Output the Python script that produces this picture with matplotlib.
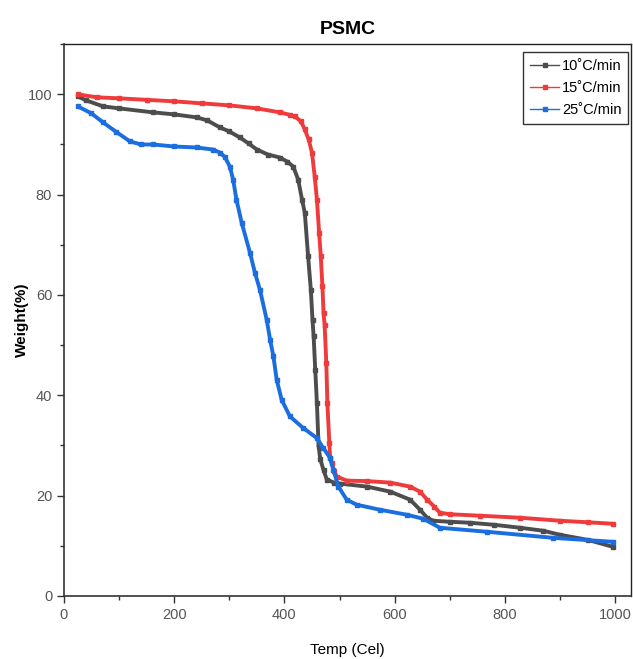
import matplotlib
matplotlib.use("Agg")
import matplotlib.pyplot as plt
from matplotlib.lines import Line2D
from matplotlib.ticker import MultipleLocator

plt.rcParams['font.family'] = ['Liberation Sans', 'DejaVu Sans']

title = "PSMC"
x_label = "Temp (Cel)"
y_label = "Weight(%)"
labels = ["10˚C/min", "15˚C/min", "25˚C/min"]
colors = ["#4d4d4d", "#ef3b3b", "#1a6ee0"]

t10 = [25, 40, 71, 100, 162, 200, 241, 260, 283, 300, 319, 335, 350, 370, 392, 405,
       416, 425, 432, 437, 443, 448, 451, 453, 456, 459, 462, 465, 471, 477, 490, 501,
       550, 592, 628, 646, 659, 670, 700, 737, 780, 828, 870, 900, 950, 996]
w10 = [99.6, 98.8, 97.6, 97.2, 96.4, 96.0, 95.4, 94.8, 93.4, 92.6, 91.4, 90.2, 89.0, 88.0, 87.4, 86.6,
       85.6, 83.0, 79.0, 76.4, 67.7, 61.0, 55.0, 51.8, 45.0, 38.4, 29.9, 27.3, 25.1, 23.2, 22.6, 22.4,
       21.8, 20.8, 19.2, 17.2, 15.6, 15.0, 14.8, 14.6, 14.2, 13.6, 13.0, 12.2, 11.2, 9.8]

t15 = [25, 60, 100, 150, 200, 250, 300, 350, 392, 410, 419, 430, 437, 444, 450, 455,
       459, 463, 466, 469, 471, 473, 476, 478, 481.5, 483, 486, 490, 495, 513, 550, 592,
       628, 646, 659, 672, 682, 700, 755, 828, 900, 950, 996]
w15 = [100.0, 99.4, 99.2, 98.9, 98.6, 98.2, 97.8, 97.2, 96.4, 95.9, 95.6, 94.6, 93.0, 91.0, 88.4, 83.6,
       79.0, 72.4, 67.7, 61.7, 56.4, 54.0, 46.5, 38.4, 30.5, 27.6, 26.5, 25.0, 23.8, 23.0, 22.9, 22.6,
       21.8, 20.8, 19.2, 17.8, 16.6, 16.3, 16.0, 15.6, 15.0, 14.7, 14.4]

t25 = [25, 50, 71, 95, 120, 140, 162, 200, 241, 270, 283, 292, 301, 307, 313, 322.5,
       337.6, 346.6, 355.7, 368, 374, 380, 386, 395, 410, 434, 458.6, 470.6, 483, 489, 498,
       513, 531, 573, 622, 652, 682, 768, 887, 996]
w25 = [97.6, 96.2, 94.4, 92.5, 90.6, 90.0, 90.0, 89.6, 89.4, 89.0, 88.4, 87.5, 85.6, 83.0, 79.0, 74.4,
       68.4, 64.4, 61.0, 55.0, 51.1, 47.8, 43.1, 39.1, 35.8, 33.5, 31.5, 29.5, 27.5, 25.1, 21.8,
       19.2, 18.2, 17.2, 16.2, 15.4, 13.6, 12.8, 11.6, 10.8]

series_t = [t10, t15, t25]
series_w = [w10, w15, w25]

fig = plt.figure(figsize=(6.33, 6.59), dpi=100)
ax = fig.add_axes([0.101, 0.0956, 0.896, 0.8374])

for t, w, c in zip(series_t, series_w, colors):
    ax.plot(t, w, color=c, lw=2.8, marker='s', ms=3, mec=c, mfc=c,
            solid_capstyle='butt')

ax.set_xlim(0, 1029)
ax.set_ylim(0, 110)
ax.xaxis.set_major_locator(MultipleLocator(200))
ax.xaxis.set_minor_locator(MultipleLocator(100))
ax.yaxis.set_major_locator(MultipleLocator(20))
ax.yaxis.set_minor_locator(MultipleLocator(10))
ax.tick_params(which='both', direction='out', colors='#333333', labelcolor='#555555',
               labelsize=10.5, top=False, right=False)
ax.tick_params(which='major', length=5, width=1)
ax.tick_params(which='minor', length=3, width=1)
for s in ['left', 'bottom']:
    ax.spines[s].set_linewidth(1.2)
    ax.spines[s].set_color('#333333')
for s in ['top', 'right']:
    ax.spines[s].set_linewidth(1.0)
    ax.spines[s].set_color('#222222')

ax.set_title(title, fontsize=14, fontweight='bold', pad=7)
ax.set_xlabel(x_label, fontsize=11, labelpad=15)
ax.set_ylabel(y_label, fontsize=11, fontweight='bold')
ax.yaxis.set_label_coords(-0.062, 0.5)

handles = [Line2D([0], [0], color=c, lw=1.0, marker='s', ms=3) for c in colors]
leg = ax.legend(handles, labels, loc='upper right', bbox_to_anchor=(0.995, 0.985),
                borderaxespad=0, fontsize=10.5, frameon=True, fancybox=False,
                edgecolor='black', handlelength=2.0, handletextpad=0.2,
                borderpad=0.45, labelspacing=0.55)
leg.get_frame().set_linewidth(1.0)

fig.savefig("out.png", dpi=100)
